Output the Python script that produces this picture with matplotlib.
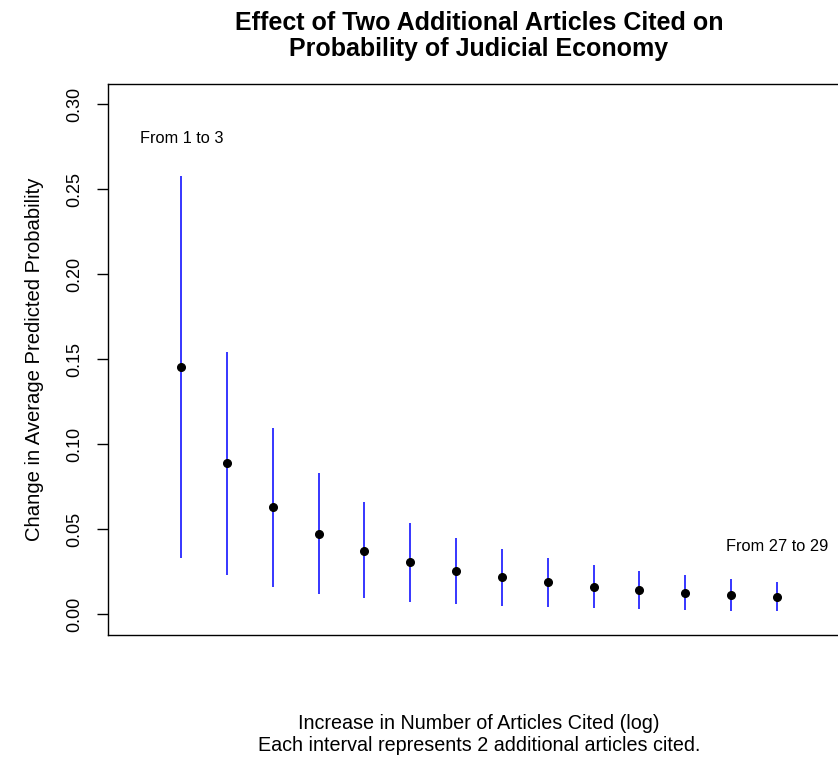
import numpy as np
import matplotlib
matplotlib.use('Agg')
import matplotlib.pyplot as plt

plt.rcParams['font.family'] = ['Liberation Sans', 'DejaVu Sans']

# change in average predicted probability, one interval per 2 extra articles
step = np.arange(1, 15)
est = [0.1454, 0.0887, 0.0628, 0.0473, 0.0373, 0.0305, 0.0254,
       0.0217, 0.0188, 0.0162, 0.0143, 0.0127, 0.0113, 0.0103]
upper = [0.2576, 0.1542, 0.1096, 0.0831, 0.0658, 0.0536, 0.0448,
         0.0382, 0.0331, 0.0289, 0.0256, 0.0229, 0.0207, 0.0190]
lower = [0.0329, 0.0231, 0.0159, 0.0119, 0.0092, 0.0074, 0.0060,
         0.0050, 0.0041, 0.0035, 0.0029, 0.0025, 0.0021, 0.0019]
yticks = [0.00, 0.05, 0.10, 0.15, 0.20, 0.25, 0.30]
first_lab = 'From 1 to 3'
last_lab = 'From 27 to 29'

fig = plt.figure(figsize=(8.38, 7.59), dpi=100)
# right edge runs off the picture, as in the original
ax = fig.add_axes([108/838, 124.5/759, 742/838, 550.5/759])

ax.vlines(step, lower, upper, color='blue', lw=1.1)
ax.plot(step, est, 'o', color='black', ms=5.5)

ax.set_xlim(-0.6, 15.6)
ax.set_ylim(-0.012, 0.312)
ax.set_xticks([])
ax.set_yticks(yticks)
ax.set_yticklabels(['%.2f' % v for v in yticks], rotation=90, va='center')
ax.tick_params(axis='y', length=8, width=1, labelsize=13, pad=10)
for s in ax.spines.values():
    s.set_linewidth(1)

ax.text(step[0], 0.28, first_lab, ha='center', va='center', fontsize=11.8)
ax.text(step[-1], 0.04, last_lab, ha='center', va='center', fontsize=11.8)

ax.set_ylabel('Change in Average Predicted Probability', fontsize=14.6, labelpad=16)
ax.set_xlabel('Increase in Number of Articles Cited (log)\nEach interval represents 2 additional articles cited.',
              fontsize=14.2, labelpad=57, linespacing=1.2)
ax.set_title('Effect of Two Additional Articles Cited on\nProbability of Judicial Economy',
             fontsize=18, fontweight='bold', pad=20, linespacing=1.1)

fig.savefig('out.png', dpi=100)
